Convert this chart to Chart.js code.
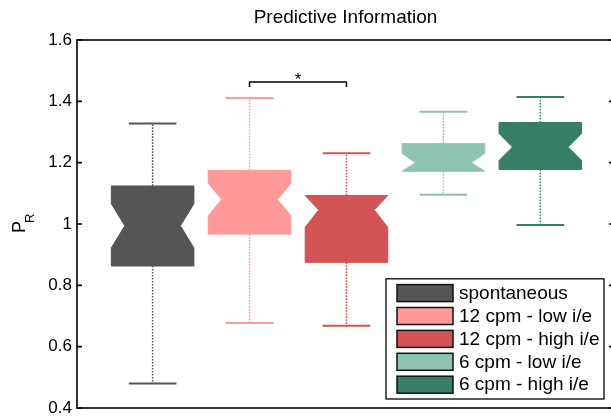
<!DOCTYPE html>
<html>
<head>
<meta charset="utf-8">
<script src="https://cdn.jsdelivr.net/npm/chart.js@4.4.1/dist/chart.umd.min.js"></script>
<style>
html, body { margin: 0; padding: 0; background: #fff; }
#wrap { width: 611px; height: 418px; overflow: hidden; position: relative; }
#wrap canvas { position: absolute; left: 0; top: 0; }
</style>
</head>
<body>
<div id="wrap"><canvas id="c" width="620" height="418"></canvas></div>
<script>
// values
var groups = ['spontaneous', '12 cpm - low i/e', '12 cpm - high i/e', '6 cpm - low i/e', '6 cpm - high i/e'];
var whiskerLow = [0.480, 0.677, 0.668, 1.095, 0.997];
var quart1 = [0.863, 0.967, 0.875, 1.172, 1.178];
var medians = [0.994, 1.080, 1.046, 1.200, 1.251];
var quart3 = [1.124, 1.175, 1.093, 1.262, 1.331];
var whiskerHigh = [1.328, 1.411, 1.231, 1.366, 1.414];
var notchHalf = [0.072, 0.053, 0.057, 0.031, 0.044];
var colors = ['#555555', '#ff9999', '#d35454', '#8dc4b0', '#377e66'];

var yTicks = [0.4, 0.6, 0.8, 1, 1.2, 1.4, 1.6];
var yTickLabels = ['0.4', '0.6', '0.8', '1', '1.2', '1.4', '1.6'];

// significance bracket between group 2 and 3
var sigPair = [2, 3];
var sigLevel = 1.463;
var sigLabel = '*';

var titleText = 'Predictive Information';

var FONT = '"Liberation Sans", Arial, Helvetica, sans-serif';

var boxHalf = 0.426, notchHalfW = 0.287, capHalf = 0.246;

var boxPlugin = {
	id: 'boxes',
	afterDatasetsDraw: function(chart){
		var ctx = chart.ctx, xs = chart.scales.x, ys = chart.scales.y;
		ctx.save();
		groups.forEach(function(g, i){
			var xc = xs.getPixelForValue(i + 1);
			var bw = xs.getPixelForValue(i + 1 + boxHalf) - xc;
			var nw = xs.getPixelForValue(i + 1 + notchHalfW) - xc;
			var cw = xs.getPixelForValue(i + 1 + capHalf) - xc;
			var q1 = ys.getPixelForValue(quart1[i]);
			var q3 = ys.getPixelForValue(quart3[i]);
			var md = ys.getPixelForValue(medians[i]);
			var nHi = ys.getPixelForValue(Math.min(medians[i] + notchHalf[i], quart3[i]));
			var nLo = ys.getPixelForValue(Math.max(medians[i] - notchHalf[i], quart1[i]));
			var wl = ys.getPixelForValue(whiskerLow[i]);
			var wh = ys.getPixelForValue(whiskerHigh[i]);

			ctx.strokeStyle = colors[i];
			// whiskers
			ctx.lineWidth = 1.5;
			ctx.setLineDash([1.6, 1.4]);
			ctx.beginPath();
			ctx.moveTo(xc, q3); ctx.lineTo(xc, wh);
			ctx.moveTo(xc, q1); ctx.lineTo(xc, wl);
			ctx.stroke();
			ctx.setLineDash([]);
			ctx.lineWidth = 2;
			ctx.beginPath();
			ctx.moveTo(xc - cw, wh); ctx.lineTo(xc + cw, wh);
			ctx.moveTo(xc - cw, wl); ctx.lineTo(xc + cw, wl);
			ctx.stroke();

			// notched box
			ctx.fillStyle = colors[i];
			ctx.lineWidth = 1;
			ctx.lineJoin = 'round';
			ctx.beginPath();
			ctx.moveTo(xc - bw, q3);
			ctx.lineTo(xc + bw, q3);
			ctx.lineTo(xc + bw, nHi);
			ctx.lineTo(xc + nw, md);
			ctx.lineTo(xc + bw, nLo);
			ctx.lineTo(xc + bw, q1);
			ctx.lineTo(xc - bw, q1);
			ctx.lineTo(xc - bw, nLo);
			ctx.lineTo(xc - nw, md);
			ctx.lineTo(xc - bw, nHi);
			ctx.closePath();
			ctx.fill();
			ctx.stroke();
		});

		// significance bracket
		var x1 = xs.getPixelForValue(sigPair[0]), x2 = xs.getPixelForValue(sigPair[1]);
		var sy = ys.getPixelForValue(sigLevel);
		ctx.strokeStyle = '#000';
		ctx.lineWidth = 1.5;
		ctx.beginPath();
		ctx.moveTo(x1, sy + 5); ctx.lineTo(x1, sy); ctx.lineTo(x2, sy); ctx.lineTo(x2, sy + 5);
		ctx.stroke();
		ctx.fillStyle = '#000';
		ctx.font = '17px ' + FONT;
		ctx.textAlign = 'center';
		ctx.textBaseline = 'alphabetic';
		ctx.fillText(sigLabel, (x1 + x2) / 2, sy + 2.5);
		ctx.restore();
	},
	afterDraw: function(chart){
		var ctx = chart.ctx, a = chart.chartArea, ys = chart.scales.y;
		ctx.save();
		// frame and inward ticks
		ctx.strokeStyle = '#000';
		ctx.lineWidth = 1.6;
		ctx.strokeRect(a.left, a.top, a.right - a.left, a.bottom - a.top);
		ctx.beginPath();
		yTicks.forEach(function(v){
			var y = ys.getPixelForValue(v);
			ctx.moveTo(a.left, y); ctx.lineTo(a.left + 5, y);
			ctx.moveTo(a.right, y); ctx.lineTo(a.right - 5, y);
		});
		ctx.stroke();

		// title, centred over the axes
		ctx.fillStyle = '#000';
		ctx.font = '19px ' + FONT;
		ctx.textAlign = 'center';
		ctx.textBaseline = 'middle';
		ctx.fillText(titleText, (a.left + a.right) / 2, 18);

		// legend
		var lw = 218, pitch = 22.9, pad = 5.8;
		var lh = pad * 2 + pitch * groups.length - (pitch - 17);
		var lx = a.right - 10 - lw, ly = a.bottom - 9 - lh;
		ctx.fillStyle = '#fff';
		ctx.fillRect(lx, ly, lw, lh);
		ctx.lineWidth = 1.3;
		ctx.strokeRect(lx, ly, lw, lh);
		ctx.font = '19px ' + FONT;
		ctx.textAlign = 'left';
		ctx.textBaseline = 'middle';
		groups.forEach(function(g, i){
			var sy = ly + pad + i * pitch;
			ctx.fillStyle = colors[i];
			ctx.fillRect(lx + 11, sy, 56, 17);
			ctx.strokeStyle = '#111';
			ctx.lineWidth = 1.5;
			ctx.strokeRect(lx + 11, sy, 56, 17);
			ctx.fillStyle = '#000';
			ctx.fillText(g, lx + 73, sy + 9);
		});

		// y label P_R
		ctx.translate(25, 233);
		ctx.rotate(-Math.PI / 2);
		ctx.textAlign = 'left';
		ctx.textBaseline = 'alphabetic';
		ctx.font = '18px ' + FONT;
		ctx.fillText('P', 0, 0);
		ctx.font = '13px ' + FONT;
		ctx.fillText('R', 10, 9);
		ctx.restore();
	}
};

new Chart(document.getElementById('c'), {
	type: 'scatter',
	data: {
		datasets: [{
			label: 'median',
			data: medians.map(function(m, i){ return {x: i + 1, y: m}; }),
			pointRadius: 0
		}]
	},
	options: {
		responsive: false,
		animation: false,
		layout: {padding: {left: 0, right: 6, top: 40, bottom: 10}},
		plugins: {
			legend: {display: false},
			tooltip: {enabled: false},
			title: {display: false}
		},
		scales: {
			x: {type: 'linear', min: 0.22, max: 5.76, display: false},
			y: {
				min: 0.4, max: 1.6,
				afterBuildTicks: function(s){ s.ticks = yTicks.map(function(v){ return {value: v}; }); },
				afterFit: function(s){
					s.width = 77;
					s.paddingTop = 0;
					s.paddingBottom = 0;
				},
				grid: {display: false, drawTicks: false},
				border: {display: false},
				ticks: {
					padding: 5,
					color: '#000',
					font: {family: FONT, size: 17},
					callback: function(v, i){ return yTickLabels[i]; }
				}
			}
		}
	},
	plugins: [boxPlugin]
});
</script>
</body>
</html>
